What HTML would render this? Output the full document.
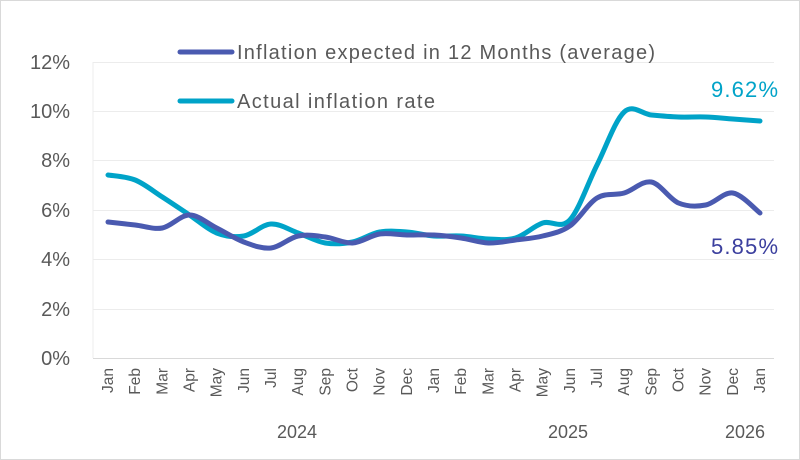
<!DOCTYPE html>
<html><head><meta charset="utf-8"><style>
html,body{margin:0;padding:0;background:#fff;}
#c{position:relative;width:800px;height:460px;overflow:hidden;}
</style></head><body><div id="c">
<svg id="s" width="800" height="460" xmlns="http://www.w3.org/2000/svg" font-family="Liberation Sans, sans-serif">
<rect x="0.5" y="0.5" width="799" height="459" fill="#fff" stroke="#d9d9d9"/>
<g stroke="#ececec" stroke-width="1">
<line x1="93" x2="774" y1="62.5" y2="62.5"/><line x1="93" x2="774" y1="111.5" y2="111.5"/>
<line x1="93" x2="774" y1="160.5" y2="160.5"/><line x1="93" x2="774" y1="210.5" y2="210.5"/>
<line x1="93" x2="774" y1="259.5" y2="259.5"/><line x1="93" x2="774" y1="309.5" y2="309.5"/>
<line x1="93" x2="93" y1="62" y2="358"/>
</g>
<line x1="93" x2="774" y1="358.5" y2="358.5" stroke="#d9d9d9"/>
<g font-size="20" fill="#595959" text-anchor="end">
<text x="70" y="69">12%</text><text x="70" y="118">10%</text><text x="70" y="167">8%</text>
<text x="70" y="217">6%</text><text x="70" y="266">4%</text><text x="70" y="316">2%</text><text x="70" y="365">0%</text>
</g>
<g id="xl" font-size="15.5" fill="#595959"></g>
<g font-size="18" fill="#595959" text-anchor="middle">
<text x="297" y="438">2024</text><text x="568" y="438">2025</text><text x="745" y="438">2026</text>
</g>
<path id="pa" fill="none" stroke="#00A3C8" stroke-width="5" stroke-linecap="round"/>
<path id="pe" fill="none" stroke="#4A5AB0" stroke-width="5" stroke-linecap="round"/>
<line x1="180" x2="232" y1="52" y2="52" stroke="#4A5AB0" stroke-width="5" stroke-linecap="round"/>
<line x1="180" x2="232" y1="101" y2="101" stroke="#00A3C8" stroke-width="5" stroke-linecap="round"/>
<g font-size="20" fill="#595959">
<text x="237" y="59" textLength="418" lengthAdjust="spacing">Inflation expected in 12 Months (average)</text>
<text x="237" y="108" textLength="198" lengthAdjust="spacing">Actual inflation rate</text>
</g>
<text x="778" y="97" font-size="22" fill="#00A3C8" text-anchor="end" textLength="67" lengthAdjust="spacing">9.62%</text>
<text x="778" y="254" font-size="22" fill="#3B3F9E" text-anchor="end" textLength="67" lengthAdjust="spacing">5.85%</text>
</svg>
<script>
var m=["Jan","Feb","Mar","Apr","May","Jun","Jul","Aug","Sep","Oct","Nov","Dec"];
var x0=108,dx=(760-108)/24,g=document.getElementById("xl"),h="";
for(var i=0;i<25;i++){var x=x0+i*dx;h+='<text transform="translate('+(x+5)+',368) rotate(-90)" text-anchor="end">'+m[i%12]+'</text>';}
g.innerHTML=h;
var E=[222,225,228,215,228,242,248,236,237,243,234,235,235,238,243,240,236,226,198,193,182,203,205,193,213];
var A=[175,180,197,215,233,236,224,233,243,242,232,232,236,236,239,238,223,220,165,112,115,117,117,119,121];
function p(Y){var P=Y.map(function(y,i){return[x0+i*dx,y]});var d="M"+P[0][0]+","+P[0][1];
for(var i=0;i<P.length-1;i++){var a=P[i-1]||P[i],b=P[i],c=P[i+1],e=P[i+2]||c;
d+=" C"+(b[0]+(c[0]-a[0])/6)+","+(b[1]+(c[1]-a[1])/6)+" "+(c[0]-(e[0]-b[0])/6)+","+(c[1]-(e[1]-b[1])/6)+" "+c[0]+","+c[1];}return d;}
document.getElementById("pe").setAttribute("d",p(E));
document.getElementById("pa").setAttribute("d",p(A));
</script>
</div></body></html>
